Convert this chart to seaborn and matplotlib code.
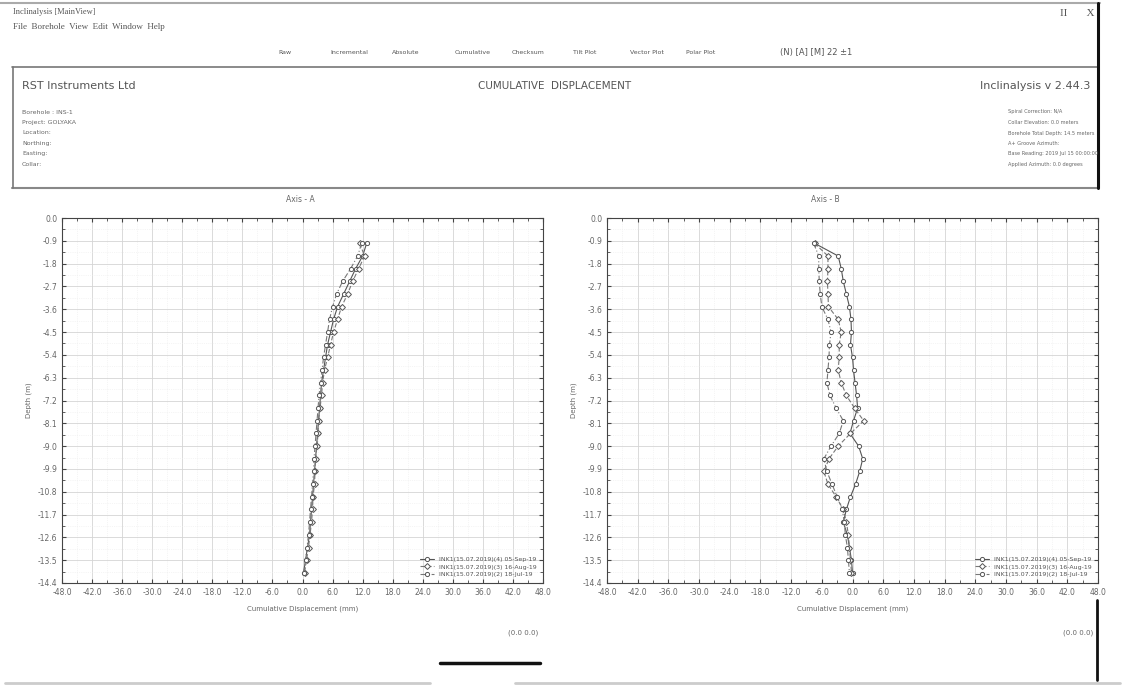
import numpy as np
import pandas as pd
import seaborn as sns
import matplotlib.pyplot as plt
from matplotlib.lines import Line2D

# depths (m) and cumulative displacement (mm)
depth = [1.0, 1.5, 2.0, 2.5, 3.0, 3.5, 4.0, 4.5, 5.0, 5.5, 6.0, 6.5, 7.0, 7.5,
         8.0, 8.5, 9.0, 9.5, 10.0, 10.5, 11.0, 11.5, 12.0, 12.5, 13.0, 13.5, 14.0]

series_names = ["INK1(15.07.2019)(4) 05-Sep-19",
                "INK1(15.07.2019)(3) 16-Aug-19",
                "INK1(15.07.2019)(2) 18-Jul-19"]

axis_a_1 = [12.8, 12.0, 10.6, 9.4, 8.2, 7.0, 6.2, 5.6, 5.0, 4.6, 4.2, 3.8, 3.6, 3.4,
            3.2, 3.0, 2.8, 2.6, 2.4, 2.2, 2.0, 1.8, 1.6, 1.4, 1.0, 0.6, 0.2]
axis_a_2 = [11.4, 12.4, 11.2, 10.0, 9.0, 7.8, 7.0, 6.2, 5.6, 5.0, 4.4, 4.0, 3.8, 3.5,
            3.2, 3.1, 2.9, 2.6, 2.5, 2.4, 2.1, 2.0, 1.8, 1.5, 1.2, 0.8, 0.4]
axis_a_3 = [11.8, 11.0, 9.6, 8.0, 6.8, 6.0, 5.4, 5.0, 4.6, 4.2, 3.9, 3.6, 3.3, 3.1,
            2.9, 2.7, 2.5, 2.3, 2.2, 2.0, 1.8, 1.6, 1.4, 1.2, 0.9, 0.6, 0.3]

axis_b_1 = [-7.4, -2.8, -2.2, -1.8, -1.2, -0.6, -0.3, -0.2, -0.4, 0.0, 0.2, 0.5, 0.8, 1.0,
            0.2, -0.5, 1.2, 2.0, 1.4, 0.6, -0.4, -1.2, -1.8, -1.0, -0.6, -0.2, 0.0]
axis_b_2 = [-7.4, -4.8, -4.8, -4.9, -4.8, -4.7, -2.8, -2.2, -2.6, -2.6, -2.8, -2.2, -1.2, 0.4,
            2.2, -0.4, -2.8, -4.6, -5.6, -4.8, -3.2, -1.8, -1.2, -0.8, -0.6, -0.4, -0.2]
axis_b_3 = [-7.6, -6.6, -6.6, -6.5, -6.3, -6.0, -4.8, -4.2, -4.5, -4.6, -4.8, -5.0, -4.4, -3.2,
            -1.8, -2.6, -4.2, -5.6, -5.0, -4.0, -3.0, -2.0, -1.6, -1.4, -1.0, -0.8, -0.6]

x_ticks = np.arange(-48, 49, 6)
y_ticks = [0.0, -0.9, -1.8, -2.7, -3.6, -4.5, -5.4, -6.3, -7.2, -8.1, -9.0, -9.9, -10.8,
           -11.7, -12.6, -13.5, -14.4]

sns.set_style("white")
plt.rcParams['font.family'] = ['DejaVu Sans']

W, H = 1129, 689
fig = plt.figure(figsize=(W / 100, H / 100), dpi=100)


def fx(x):
    return x / W


def fy(y):
    return 1 - y / H


def hline(y, x0, x1, lw=1.0, color="#888888"):
    fig.add_artist(Line2D([fx(x0), fx(x1)], [fy(y), fy(y)], transform=fig.transFigure,
                          lw=lw, color=color))


def vline(x, y0, y1, lw=1.0, color="#888888"):
    fig.add_artist(Line2D([fx(x), fx(x)], [fy(y0), fy(y1)], transform=fig.transFigure,
                          lw=lw, color=color))


# window chrome
hline(3, 0, 1100, lw=1.5, color="#aaaaaa")
hline(67, 12, 1098, lw=1.2, color="#777777")
hline(188, 12, 1098, lw=1.5, color="#888888")
vline(13, 67, 188, lw=1.2, color="#777777")
vline(1098, 3, 188, lw=2.2, color="#111111")
vline(1097, 600, 680, lw=2.0, color="#111111")
hline(663, 440, 540, lw=2.5, color="#111111")
hline(683, 5, 430, lw=2.0, color="#cccccc")
hline(683, 515, 1120, lw=2.0, color="#cccccc")

fig.text(fx(13), fy(12), "Inclinalysis [MainView]", fontsize=6, family="Liberation Serif",
         color="#555555", va="center")
fig.text(fx(13), fy(27), "File  Borehole  View  Edit  Window  Help", fontsize=6.5,
         family="Liberation Serif", color="#555555", va="center")
fig.text(fx(1060), fy(14), "II       X", fontsize=8, family="Liberation Serif", color="#555555",
         va="center")
toolbar = [(278, "Raw"), (330, "Incremental"), (392, "Absolute"), (455, "Cumulative"),
           (512, "Checksum"), (573, "Tilt Plot"), (630, "Vector Plot"), (686, "Polar Plot")]
for x, t in toolbar:
    fig.text(fx(x), fy(53), t, fontsize=4.5, color="#555555", va="center")
fig.text(fx(780), fy(53), "(N) [A] [M] 22 ±1", fontsize=6, color="#555555", va="center")

# report header
fig.text(fx(22), fy(86), "RST Instruments Ltd", fontsize=8, color="#555555", va="center")
fig.text(fx(555), fy(86), "CUMULATIVE  DISPLACEMENT", fontsize=7.5, color="#555555",
         va="center", ha="center")
fig.text(fx(1090), fy(86), "Inclinalysis v 2.44.3", fontsize=8, color="#555555", va="center",
         ha="right")
left_info = ["Borehole : INS-1", "Project: GOLYAKA", "Location:", "Northing:", "Easting:",
             "Collar:"]
for i, t in enumerate(left_info):
    fig.text(fx(22), fy(112 + i * 10.5), t, fontsize=4.5, color="#666666", va="center")
right_info = ["Spiral Correction: N/A", "Collar Elevation: 0.0 meters",
              "Borehole Total Depth: 14.5 meters", "A+ Groove Azimuth:",
              "Base Reading: 2019 Jul 15 00:00:00", "Applied Azimuth: 0.0 degrees"]
for i, t in enumerate(right_info):
    fig.text(fx(1008), fy(112 + i * 10.5), t, fontsize=3.6, color="#666666", va="center")

panels = [
    ("Axis - A", (62, 543), [axis_a_1, axis_a_2, axis_a_3], (300, 199)),
    ("Axis - B", (607, 1098), [axis_b_1, axis_b_2, axis_b_3], (825, 199)),
]
styles = {series_names[0]: "", series_names[1]: (4, 2), series_names[2]: (5, 2, 1, 2)}
marker_map = {series_names[0]: "o", series_names[1]: "D", series_names[2]: "o"}

for title, (x0, x1), vals, tpos in panels:
    ax = fig.add_axes([fx(x0), fy(583), (x1 - x0) / W, (583 - 218) / H])
    df = pd.DataFrame({
        "Displacement": np.concatenate(vals),
        "Depth": np.tile(-np.array(depth), 3),
        "Reading": np.repeat(series_names, len(depth)),
    })
    sns.lineplot(data=df, x="Displacement", y="Depth", hue="Reading", style="Reading",
                 palette=["#555555", "#777777", "#777777"], dashes=styles,
                 markers=marker_map, markersize=3, linewidth=0.8, sort=False,
                 estimator=None, ax=ax, markerfacecolor="white", markeredgecolor="#555555",
                 markeredgewidth=0.7)
    ax.set_xlim(-48, 48)
    ax.set_ylim(-14.4, 0)
    ax.set_xticks(x_ticks)
    ax.set_xticklabels([f"{v:.1f}" for v in x_ticks])
    ax.set_yticks(y_ticks)
    ax.set_yticklabels([f"{v:.1f}" for v in y_ticks])
    ax.set_xticks(np.arange(-48, 49, 3), minor=True)
    ax.set_yticks(-np.arange(0, 14.41, 0.45), minor=True)
    ax.grid(True, which="major", color="#d4d4d4", lw=0.6)
    ax.grid(True, which="minor", color="#ececec", lw=0.5, ls=":")
    ax.tick_params(axis="both", which="major", labelsize=5.5, labelcolor="#666666",
                   length=3, direction="in", color="#444444", bottom=True, left=True,
                   top=True, right=True)
    ax.tick_params(axis="both", which="minor", length=2, direction="in", color="#444444",
                   bottom=True, left=True, top=True, right=True)
    for s in ax.spines.values():
        s.set_color("#444444")
        s.set_linewidth(0.8)
    ax.set_xlabel("Cumulative Displacement (mm)", fontsize=5, color="#666666", labelpad=6)
    ax.set_ylabel("Depth (m)", fontsize=5, color="#666666", labelpad=4)
    leg = ax.legend(loc="lower right", fontsize=4.5, frameon=False, handlelength=2.2,
                    labelspacing=0.3, borderaxespad=0.6)
    for t in leg.get_texts():
        t.set_color("#555555")
    fig.text(fx(tpos[0]), fy(tpos[1]), title, fontsize=5.5, color="#666666", ha="center",
             va="center")
    fig.text(fx(x1 - 5), fy(633), "(0.0 0.0)", fontsize=5, color="#666666", ha="right",
             va="center")

fig.savefig("out.png", dpi=100)
